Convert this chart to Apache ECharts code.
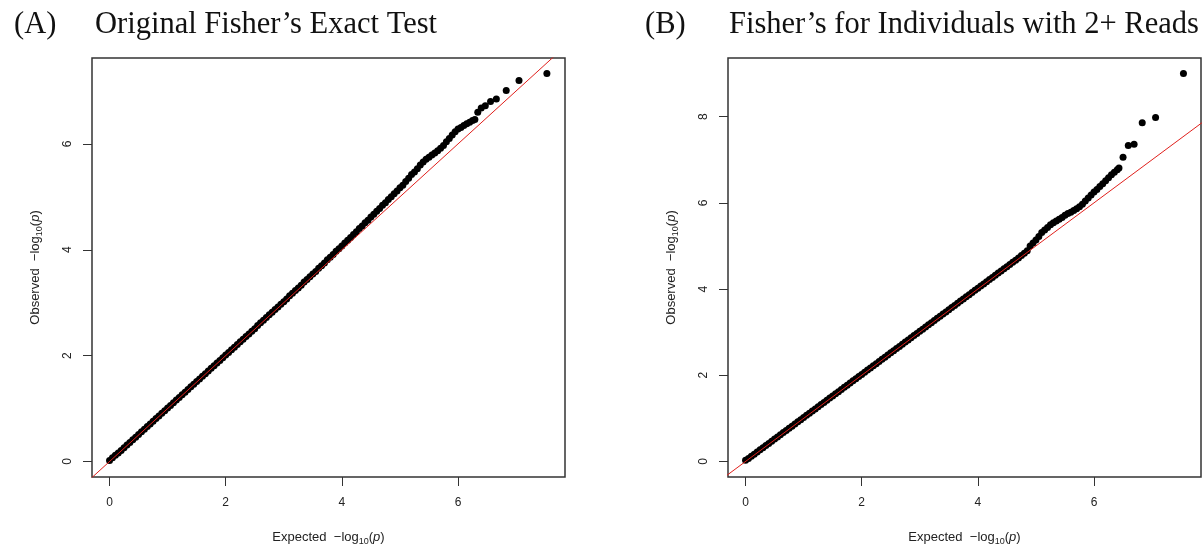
<!DOCTYPE html>
<html>
<head>
<meta charset="utf-8">
<script src="https://cdn.jsdelivr.net/npm/echarts@6/dist/echarts.min.js"></script>
<style>
html,body{margin:0;padding:0;background:#fff;}
#c{width:1202px;height:551px;}
</style>
</head>
<body>
<div id="c"></div>
<script>
// ---- Panel A: Original Fisher's Exact Test ----
const expA = [
0.00,0.05,0.10,0.15,0.20,0.25,0.30,0.35,0.40,0.45,
0.50,0.55,0.60,0.65,0.70,0.75,0.80,0.85,0.90,0.95,
1.00,1.05,1.10,1.15,1.20,1.25,1.30,1.35,1.40,1.45,
1.50,1.55,1.60,1.65,1.70,1.75,1.80,1.85,1.90,1.95,
2.00,2.05,2.10,2.15,2.20,2.25,2.30,2.35,2.40,2.45,
2.50,2.55,2.60,2.65,2.70,2.75,2.80,2.85,2.90,2.95,
3.00,3.05,3.10,3.15,3.20,3.25,3.30,3.35,3.40,3.45,
3.50,3.55,3.60,3.65,3.70,3.75,3.80,3.85,3.90,3.95,
4.00,4.05,4.10,4.15,4.20,4.25,4.30,4.35,4.40,4.45,
4.50,4.55,4.60,4.65,4.70,4.75,4.80,4.85,4.90,4.95,
5.00,5.05,5.10,5.15,5.20,5.25,5.30,5.35,5.40,5.45,
5.50,5.55,5.60,5.65,5.70,5.75,5.80,5.85,5.90,5.95,
6.00,6.05,6.10,6.15,6.20,6.25,6.29,
6.34,6.40,6.47,6.56,6.66,6.83,7.05,7.53
];
const obsA = [
0.02,0.07,0.12,0.16,0.21,0.26,0.31,0.36,0.41,0.46,
0.51,0.56,0.61,0.66,0.71,0.76,0.81,0.86,0.91,0.96,
1.01,1.06,1.11,1.16,1.21,1.26,1.31,1.36,1.41,1.46,
1.51,1.56,1.61,1.66,1.71,1.76,1.81,1.86,1.91,1.96,
2.01,2.06,2.11,2.16,2.21,2.26,2.31,2.36,2.41,2.46,
2.51,2.57,2.62,2.67,2.72,2.77,2.82,2.87,2.92,2.97,
3.02,3.07,3.13,3.18,3.23,3.28,3.33,3.39,3.44,3.49,
3.54,3.59,3.65,3.70,3.75,3.81,3.86,3.91,3.97,4.02,
4.07,4.13,4.18,4.23,4.29,4.34,4.40,4.45,4.51,4.56,
4.62,4.67,4.73,4.78,4.84,4.89,4.95,5.00,5.06,5.11,
5.17,5.22,5.29,5.35,5.42,5.47,5.53,5.60,5.66,5.71,
5.75,5.79,5.83,5.87,5.92,5.97,6.04,6.10,6.17,6.23,
6.28,6.31,6.35,6.38,6.41,6.44,6.46,
6.60,6.68,6.72,6.80,6.85,7.01,7.20,7.33
];

// ---- Panel B: Fisher's for Individuals with 2+ Reads ----
const expB = [
0.00,0.05,0.10,0.15,0.20,0.25,0.30,0.35,0.40,0.45,
0.50,0.55,0.60,0.65,0.70,0.75,0.80,0.85,0.90,0.95,
1.00,1.05,1.10,1.15,1.20,1.25,1.30,1.35,1.40,1.45,
1.50,1.55,1.60,1.65,1.70,1.75,1.80,1.85,1.90,1.95,
2.00,2.05,2.10,2.15,2.20,2.25,2.30,2.35,2.40,2.45,
2.50,2.55,2.60,2.65,2.70,2.75,2.80,2.85,2.90,2.95,
3.00,3.05,3.10,3.15,3.20,3.25,3.30,3.35,3.40,3.45,
3.50,3.55,3.60,3.65,3.70,3.75,3.80,3.85,3.90,3.95,
4.00,4.05,4.10,4.15,4.20,4.25,4.30,4.35,4.40,4.45,
4.50,4.55,4.60,4.65,4.70,4.75,4.80,4.85,4.90,4.95,
5.00,5.05,5.10,5.15,5.20,5.25,5.30,5.35,5.40,5.45,
5.50,5.55,5.60,5.65,5.70,5.75,5.80,5.85,5.90,5.95,
6.00,6.05,6.10,6.15,6.20,6.25,6.30,6.35,6.40,6.43,
6.50,6.59,6.69,6.83,7.06,7.54
];
const obsB = [
0.03,0.07,0.12,0.17,0.22,0.27,0.32,0.37,0.42,0.47,
0.52,0.57,0.62,0.67,0.72,0.77,0.82,0.87,0.92,0.97,
1.02,1.07,1.12,1.17,1.22,1.27,1.32,1.37,1.42,1.47,
1.52,1.57,1.62,1.67,1.72,1.77,1.82,1.87,1.92,1.97,
2.02,2.07,2.12,2.17,2.22,2.27,2.32,2.37,2.42,2.47,
2.52,2.57,2.62,2.67,2.72,2.77,2.82,2.87,2.92,2.97,
3.02,3.07,3.12,3.17,3.22,3.27,3.32,3.37,3.42,3.47,
3.52,3.57,3.62,3.67,3.72,3.77,3.82,3.87,3.92,3.97,
4.02,4.07,4.12,4.17,4.22,4.27,4.32,4.37,4.42,4.47,
4.52,4.57,4.62,4.67,4.72,4.78,4.83,4.89,5.00,5.07,
5.14,5.22,5.31,5.37,5.43,5.49,5.54,5.58,5.62,5.66,
5.71,5.75,5.78,5.82,5.86,5.91,5.97,6.04,6.11,6.18,
6.25,6.31,6.38,6.44,6.51,6.58,6.65,6.71,6.77,6.81,
7.06,7.33,7.36,7.86,7.98,9.00
];

// ---- axes / text ----
const xTicks = [0, 2, 4, 6];
const yTicksA = [0, 2, 4, 6];
const yTicksB = [0, 2, 4, 6, 8];
const refLine = [-1, 10];
const titleTagA = '(A)';
const titleA = 'Original Fisher\u2019s Exact Test';
const titleTagB = '(B)';
const titleB = 'Fisher\u2019s for Individuals with 2+ Reads';

const pairs = (xs, ys) => xs.map((x, i) => [x, ys[i]]);

const labelColor = '#222';
const sansFont = '"Liberation Sans", Arial, sans-serif';
const serifFont = '"Liberation Serif", "Times New Roman", serif';

const nameRich = {
  t: { fontSize: 13, fontFamily: sansFont, color: labelColor, lineHeight: 18, verticalAlign: 'middle' },
  s: { fontSize: 9, fontFamily: sansFont, color: labelColor, lineHeight: 12, verticalAlign: 'bottom' },
  p: { fontSize: 13, fontFamily: sansFont, color: labelColor, fontStyle: 'italic', lineHeight: 18, verticalAlign: 'middle' }
};
const xName = '{t|Expected  \u2212log}{s|10}{t|(}{p|p}{t|)}';
const yName = '{t|Observed  \u2212log}{s|10}{t|(}{p|p}{t|)}';

function xAxisFor(gi) {
  return {
    type: 'value', gridIndex: gi, min: -0.302, max: 7.842,
    axisLine: { show: false, onZero: false },
    axisTick: { show: true, inside: false, length: 9, customValues: xTicks, lineStyle: { color: '#333', width: 1 } },
    axisLabel: { show: true, customValues: xTicks, margin: 20, fontSize: 12, fontFamily: sansFont, color: labelColor },
    splitLine: { show: false },
    name: xName, nameLocation: 'middle', nameGap: 51,
    nameTextStyle: { rich: nameRich }
  };
}
function yAxisFor(gi, min, max, ticks, gap) {
  return {
    type: 'value', gridIndex: gi, min: min, max: max,
    axisLine: { show: false, onZero: false },
    axisTick: { show: true, inside: false, length: 9, customValues: ticks, lineStyle: { color: '#333', width: 1 } },
    axisLabel: { show: true, customValues: ticks, rotate: 90, margin: 18, fontSize: 12, fontFamily: sansFont, color: labelColor },
    splitLine: { show: false },
    name: yName, nameLocation: 'middle', nameGap: gap, nameRotate: 90,
    nameTextStyle: { rich: nameRich }
  };
}

function scatter(gi, xs, ys) {
  return {
    type: 'scatter', xAxisIndex: gi, yAxisIndex: gi,
    data: pairs(xs, ys), symbol: 'circle', symbolSize: 7,
    itemStyle: { color: '#000', opacity: 1 }, silent: true, z: 2
  };
}
function abline(gi) {
  return {
    type: 'line', xAxisIndex: gi, yAxisIndex: gi,
    data: refLine.map(v => [v, v]), symbol: 'none', clip: true,
    lineStyle: { color: '#e0201c', width: 1 }, silent: true, z: 3
  };
}

const titleStyle = { fontFamily: serifFont, fontSize: 30.5, fontWeight: 'normal', color: '#111' };
const chart = echarts.init(document.getElementById('c'), null, { renderer: 'canvas' });
chart.setOption({
  animation: false,
  backgroundColor: '#fff',
  title: [
    { text: titleTagA, left: 9, top: 4, textStyle: titleStyle },
    { text: titleA, left: 90, top: 4, textStyle: titleStyle },
    { text: titleTagB, left: 640, top: 4, textStyle: titleStyle },
    { text: titleB, left: 724, top: 4, textStyle: titleStyle }
  ],
  grid: [
    { left: 92, top: 58, width: 473, height: 423, show: true, borderColor: '#333', borderWidth: 1.5, backgroundColor: 'transparent' },
    { left: 728, top: 58, width: 473, height: 423, show: true, borderColor: '#333', borderWidth: 1.5, backgroundColor: 'transparent' }
  ],
  xAxis: [ xAxisFor(0), xAxisFor(1) ],
  yAxis: [
    yAxisFor(0, -0.293, 7.623, yTicksA, 48),
    yAxisFor(1, -0.36, 9.36, yTicksB, 48)
  ],
  series: [
    scatter(0, expA, obsA), abline(0),
    scatter(1, expB, obsB), abline(1)
  ]
});
</script>
</body>
</html>
